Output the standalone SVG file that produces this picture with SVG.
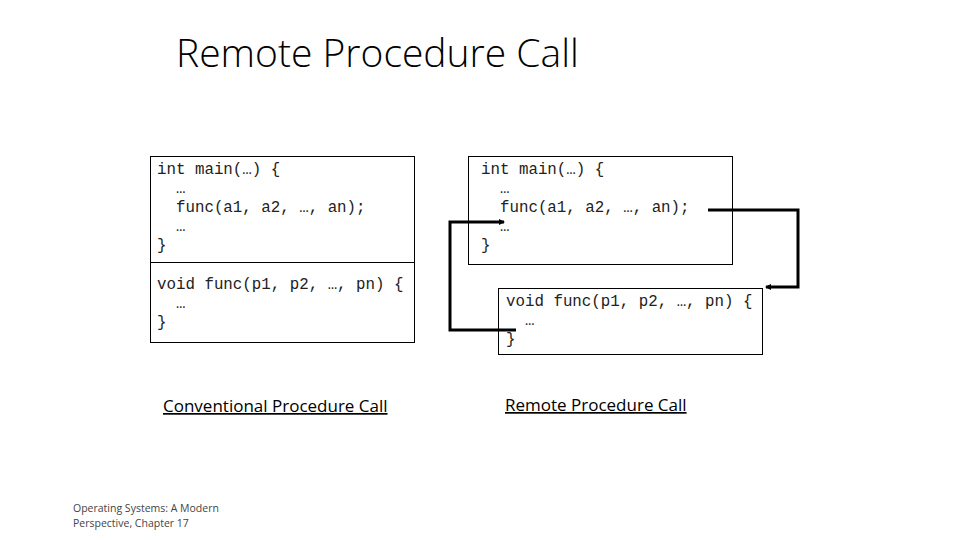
<svg xmlns="http://www.w3.org/2000/svg" width="960" height="540" viewBox="0 0 960 540">
<style>
.c{font-family:"Liberation Mono",monospace;font-size:15.8px;fill:#222;white-space:pre}
.b{fill:none;stroke:#000;stroke-width:1}
.w{fill:none;stroke:#000;stroke-width:3}
.l{font-family:"Open Sans","Liberation Sans",sans-serif;font-size:17px;text-decoration:underline}
</style>
<defs><marker id="a" markerWidth="6" markerHeight="6" refX="5" refY="3" orient="auto" markerUnits="userSpaceOnUse"><path d="M0,0L6,3L0,6z"/></marker></defs>
<rect width="960" height="540" fill="#fff"/>
<text x="176" y="67" font-family="Open Sans,Liberation Sans,sans-serif" font-size="39" font-weight="300">Remote Procedure Call</text>
<g id="conv">
<rect class="b" x="150.5" y="156.5" width="264" height="186"/>
<line class="b" x1="150" y1="262.5" x2="414" y2="262.5"/>
<text class="c" x="157" y="174" xml:space="preserve">int main(…) {</text>
<text class="c" x="157" y="193" xml:space="preserve">  …</text>
<text class="c" x="157" y="212" xml:space="preserve">  func(a1, a2, …, an);</text>
<text class="c" x="157" y="231" xml:space="preserve">  …</text>
<text class="c" x="157" y="250" xml:space="preserve">}</text>
<text class="c" x="157" y="289" xml:space="preserve">void func(p1, p2, …, pn) {</text>
<text class="c" x="157" y="308" xml:space="preserve">  …</text>
<text class="c" x="157" y="327" xml:space="preserve">}</text>
</g>
<g id="main2">
<rect class="b" x="468.5" y="156.5" width="264" height="108"/>
<text class="c" x="481" y="174" xml:space="preserve">int main(…) {</text>
<text class="c" x="481" y="193" xml:space="preserve">  …</text>
<text class="c" x="481" y="212" xml:space="preserve">  func(a1, a2, …, an);</text>
<text class="c" x="481" y="231" xml:space="preserve">  …</text>
<text class="c" x="481" y="250" xml:space="preserve">}</text>
</g>
<g id="func2">
<rect class="b" x="498.5" y="288.5" width="264" height="66"/>
<text class="c" x="506" y="306" xml:space="preserve">void func(p1, p2, …, pn) {</text>
<text class="c" x="506" y="325" xml:space="preserve">  …</text>
<text class="c" x="506" y="344" xml:space="preserve">}</text>
</g>
<g id="connectors">
<polyline class="w" points="708,210 798,210 798,287 766,287" marker-end="url(#a)"/>
<polyline class="w" points="516,330 450,330 450,222 504,222" marker-end="url(#a)"/>
</g>
<text class="l" x="163" y="412">Conventional Procedure Call</text>
<text class="l" x="505" y="411">Remote Procedure Call</text>
<text x="73" y="512" font-family="Open Sans,Liberation Sans,sans-serif" font-size="10.5" fill="#444">Operating Systems: A Modern</text>
<text x="73" y="527" font-family="Open Sans,Liberation Sans,sans-serif" font-size="10.5" fill="#444">Perspective, Chapter 17</text>
</svg>
